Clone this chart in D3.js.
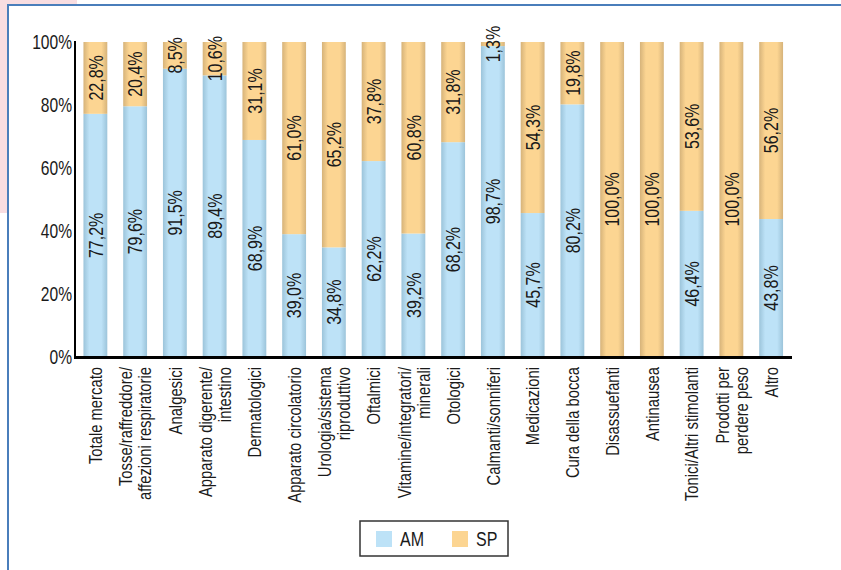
<!DOCTYPE html>
<html><head><meta charset="utf-8">
<script src="https://cdn.jsdelivr.net/npm/d3@7/dist/d3.min.js"></script>
<style>
html,body{margin:0;padding:0;background:#fff;}
svg{display:block;}
text{font-family:"Liberation Sans",Arial,sans-serif;fill:#1a1a1a;}
</style></head>
<body>
<svg id="chart" width="841" height="570"></svg>
<script>
const categories = [
  ["Totale mercato"],
  ["Tosse/raffreddore/","affezioni respiratorie"],
  ["Analgesici"],
  ["Apparato digerente/","intestino"],
  ["Dermatologici"],
  ["Apparato circolatorio"],
  ["Urologia/sistema","riproduttivo"],
  ["Oftalmici"],
  ["Vitamine/integratori/","minerali"],
  ["Otologici"],
  ["Calmanti/sonniferi"],
  ["Medicazioni"],
  ["Cura della bocca"],
  ["Disassuefanti"],
  ["Antinausea"],
  ["Tonici/Altri stimolanti"],
  ["Prodotti per","perdere peso"],
  ["Altro"]
];
const amValues = [77.2,79.6,91.5,89.4,68.9,39.0,34.8,62.2,39.2,68.2,98.7,45.7,80.2,0,0,46.4,0,43.8];
const spValues = [22.8,20.4,8.5,10.6,31.1,61.0,65.2,37.8,60.8,31.8,1.3,54.3,19.8,100.0,100.0,53.6,100.0,56.2];
const yTicks = [0,20,40,60,80,100];
const seriesNames = ["AM","SP"];

const svg = d3.select("#chart");
const W = 841, H = 570;

// background decorations
svg.append("rect").attr("x",0).attr("y",0).attr("width",77).attr("height",213).attr("fill","#f8dde1");
svg.append("rect").attr("x",8).attr("y",5).attr("width",W).attr("height",H).attr("fill","#fff")
  .attr("stroke","#4a7ebb").attr("stroke-width",2);

// gradients
const defs = svg.append("defs");
function grad(id, edge, mid){
  const g = defs.append("linearGradient").attr("id",id).attr("x1","0%").attr("x2","100%").attr("y1","0%").attr("y2","0%");
  g.append("stop").attr("offset","0%").attr("stop-color",edge);
  g.append("stop").attr("offset","25%").attr("stop-color",mid);
  g.append("stop").attr("offset","75%").attr("stop-color",mid);
  g.append("stop").attr("offset","100%").attr("stop-color",edge);
}
grad("gAM","#9cc4da","#bde2f7");
grad("gSP","#d6b37a","#fcd592");

const x = d3.scaleBand().domain(d3.range(categories.length)).range([75.5,791]).paddingInner(0.4).paddingOuter(0.2);
const y = d3.scaleLinear().domain([0,100]).range([357,42]);

const fmt = v => d3.format(".1f")(v).replace(".",",") + "%";

const stackData = categories.map((c,i)=>({i, AM:amValues[i], SP:spValues[i]}));
const stack = d3.stack().keys(seriesNames)(stackData);
const fills = {AM:"url(#gAM)", SP:"url(#gSP)"};

const g = svg.append("g");
stack.forEach(layer=>{
  const key = layer.key;
  layer.forEach(d=>{
    const i = d.data.i;
    if (d[1]-d[0] <= 0) return;
    g.append("rect")
      .attr("x", x(i)).attr("width", x.bandwidth())
      .attr("y", y(d[1])).attr("height", y(d[0]) - y(d[1]))
      .attr("fill", fills[key]);
  });
});
// labels
stack.forEach(layer=>{
  layer.forEach(d=>{
    const i = d.data.i;
    const v = d[1]-d[0];
    if (v <= 0) return;
    const cx = x(i) + x.bandwidth()/2;
    const cy = y((d[0]+d[1])/2);
    g.append("text")
      .attr("transform",`translate(${cx},${cy}) rotate(-90) scale(0.8,1)`)
      .attr("text-anchor","middle").attr("dy","0.36em")
      .style("font-size","20px")
      .text(fmt(v));
  });
});

// axes
svg.append("line").attr("x1",75).attr("x2",75).attr("y1",41).attr("y2",358).attr("stroke","#000").attr("stroke-width",2);
svg.append("line").attr("x1",74).attr("x2",792).attr("y1",357.5).attr("y2",357.5).attr("stroke","#000").attr("stroke-width",3);

yTicks.forEach(t=>{
  svg.append("text").attr("transform",`translate(72,${y(t)}) scale(0.78,1)`).attr("dy","0.36em")
    .attr("text-anchor","end").style("font-size","20px").text(t+"%");
});

// category labels
categories.forEach((lines,i)=>{
  const cx = x(i) + x.bandwidth()/2;
  const lh = 19;
  const n = lines.length;
  lines.forEach((ln,k)=>{
    const off = (k - (n-1)/2) * lh;
    svg.append("text")
      .attr("transform",`translate(${cx+off},367) rotate(-90) scale(0.78,1)`)
      .attr("text-anchor","end").attr("dy","0.36em")
      .style("font-size","19px").text(ln);
  });
});

// legend
const lg = svg.append("g");
lg.append("rect").attr("x",360).attr("y",521).attr("width",148).attr("height",35)
  .attr("fill","#fff").attr("stroke","#333").attr("stroke-width",1.5);
const legendItems = [{k:"AM",c:"#bde2f7",x:376},{k:"SP",c:"#fcd592",x:452}];
legendItems.forEach(it=>{
  lg.append("rect").attr("x",it.x).attr("y",531).attr("width",16).attr("height",16).attr("fill",it.c);
  lg.append("text").attr("transform",`translate(${it.x+24},539) scale(0.8,1)`).attr("dy","0.36em").style("font-size","20px").text(it.k);
});
</script>
</body></html>
